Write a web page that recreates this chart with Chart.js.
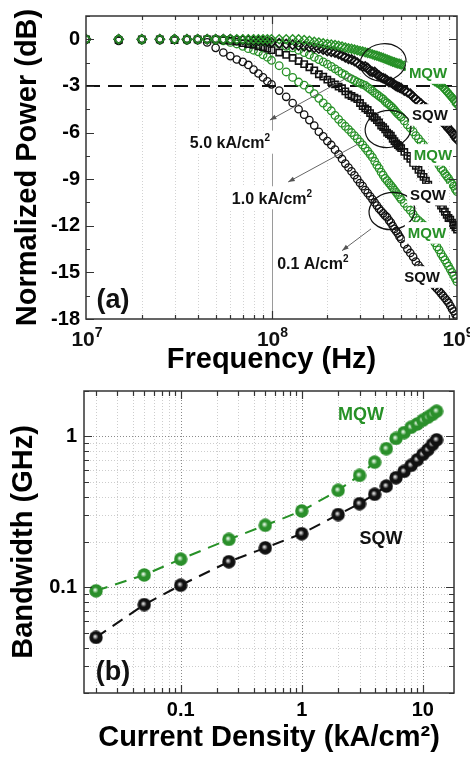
<!DOCTYPE html>
<html>
<head>
<meta charset="utf-8">
<script src="https://cdn.jsdelivr.net/npm/chart.js@4.4.1/dist/chart.umd.min.js"></script>
<style>
  html, body { margin: 0; padding: 0; background: #fff; }
  .panel { position: absolute; left: 0; width: 470px; }
  #pa { top: 0; height: 380px; }
  #pb { top: 380px; height: 377px; }
</style>
</head>
<body>
<div class="panel" id="pa"><canvas id="chartA" width="470" height="380"></canvas></div>
<div class="panel" id="pb"><canvas id="chartB" width="470" height="377"></canvas></div>
<script>
// (a) frequency response, shared frequency points in MHz
const freqMHz = [10, 15, 20, 25, 30, 35, 40, 45, 50, 55, 60, 65, 70, 75, 80, 85, 90, 95, 100,
  110, 120, 130, 140, 150, 160, 170, 180, 190, 200,
  210, 220, 230, 240, 250, 260, 270, 280, 290, 300,
  310, 320, 330, 340, 350, 360, 370, 380, 390, 400,
  410, 420, 430, 440, 450, 460, 470, 480, 490, 500,
  520, 540, 560, 580, 600, 620, 640, 660, 680, 700,
  720, 740, 760, 780, 800, 820, 840, 860, 880, 900,
  920, 940, 960, 980, 1000];

// normalized power (dB) at 0.1, 1.0 and 5.0 kA/cm2
const sqwLow = [0, -0.1, 0, -0.05, 0, -0.05, -0.05, -0.2, -0.55, -0.85, -1.08, -1.3, -1.45, -1.65, -1.95, -2.2, -2.45, -2.7, -2.9,
  -3.3, -3.7, -4.1, -4.5, -4.85, -5.2, -5.55, -5.95, -6.25, -6.55,
  -6.8, -7.1, -7.4, -7.7, -8.0, -8.25, -8.5, -8.75, -9.0, -9.25,
  -9.45, -9.7, -9.9, -10.1, -10.3, -10.5, -10.7, -10.9, -11.05, -11.2,
  -11.35, -11.45, -11.65, -11.8, -12.0, -12.2, -12.35, -12.5, -12.7, -12.85,
  -13.2, -13.5, -13.75, -14.0, -14.3, -14.55, -14.75, -14.95, -15.15, -15.4,
  -15.55, -15.75, -15.9, -16.05, -16.2, -16.35, -16.5, -16.65, -16.8, -16.95,
  -17.15, -17.35, -17.5, -17.7, -17.9];
const mqwLow = [0, 0, -0.05, 0, 0, -0.05, 0, 0, -0.05, -0.1, -0.2, -0.3, -0.45, -0.6, -0.7, -0.8, -1.0, -1.15, -1.35,
  -1.7, -2.1, -2.45, -2.75, -2.95, -3.2, -3.5, -3.8, -4.1, -4.35,
  -4.6, -4.9, -5.15, -5.4, -5.6, -5.8, -6.0, -6.2, -6.4, -6.6,
  -6.8, -7.0, -7.2, -7.4, -7.6, -7.85, -8.1, -8.3, -8.55, -8.75,
  -8.95, -9.1, -9.25, -9.4, -9.55, -9.7, -9.85, -10.0, -10.15, -10.3,
  -10.55, -10.8, -11.0, -11.25, -11.5, -11.65, -11.8, -11.95, -12.15, -12.4,
  -12.7, -12.9, -13.1, -13.35, -13.55, -13.8, -14.0, -14.2, -14.4, -14.6,
  -14.8, -15.0, -15.2, -15.4, -15.6];
const sqwMid = [0, -0.05, 0, 0, -0.05, 0, 0, 0, 0, -0.05, -0.1, -0.15, -0.25, -0.3, -0.35, -0.45, -0.5, -0.6, -0.7,
  -0.85, -1.0, -1.2, -1.4, -1.6, -1.8, -2.0, -2.25, -2.4, -2.6,
  -2.75, -2.9, -3.05, -3.15, -3.35, -3.55, -3.65, -3.75, -3.85, -4.1,
  -4.3, -4.45, -4.55, -4.75, -4.95, -5.05, -5.2, -5.35, -5.55, -5.65,
  -5.8, -6.0, -6.1, -6.2, -6.4, -6.55, -6.7, -6.8, -6.9, -7.0,
  -7.25, -7.5, -7.7, -7.95, -8.15, -8.4, -8.65, -8.85, -9.1, -9.35,
  -9.6, -9.85, -10.1, -10.3, -10.5, -10.7, -10.9, -11.1, -11.3, -11.5,
  -11.6, -11.8, -11.95, -12.1, -12.25];
const mqwMid = [0, 0, 0, 0, 0, 0, 0, 0, 0, 0, 0, -0.02, -0.05, -0.07, -0.1, -0.12, -0.15, -0.17, -0.2,
  -0.3, -0.45, -0.55, -0.7, -0.85, -1.0, -1.15, -1.3, -1.45, -1.6,
  -1.75, -1.9, -2.05, -2.2, -2.3, -2.45, -2.55, -2.65, -2.75, -2.82,
  -2.9, -2.97, -3.1, -3.2, -3.32, -3.45, -3.55, -3.65, -3.75, -3.85,
  -4.0, -4.1, -4.2, -4.3, -4.42, -4.55, -4.68, -4.8, -4.9, -5.0,
  -5.25, -5.5, -5.7, -5.95, -6.2, -6.4, -6.6, -6.8, -7.0, -7.2,
  -7.4, -7.6, -7.75, -7.9, -8.1, -8.3, -8.45, -8.65, -8.8, -8.95,
  -9.15, -9.3, -9.45, -9.65, -9.8];
const sqwHigh = [0, 0, 0, 0, 0, 0, 0, 0, 0, 0, 0, -0.05, -0.05, -0.05, -0.1, -0.1, -0.1, -0.15, -0.2,
  -0.25, -0.3, -0.35, -0.4, -0.45, -0.5, -0.55, -0.6, -0.65, -0.75,
  -0.8, -0.85, -0.95, -1.05, -1.15, -1.25, -1.3, -1.4, -1.5, -1.65,
  -1.75, -1.75, -1.85, -2.05, -2.1, -2.1, -2.25, -2.35, -2.45, -2.5,
  -2.55, -2.65, -2.75, -2.75, -2.85, -2.92, -3.0, -3.05, -3.1, -3.15,
  -3.3, -3.4, -3.5, -3.7, -3.85, -4.0, -4.15, -4.3, -4.4, -4.55,
  -4.7, -4.8, -4.9, -5.05, -5.15, -5.25, -5.35, -5.45, -5.6, -5.75,
  -5.85, -6.0, -6.15, -6.3, -6.45];
const mqwHigh = [0, 0, 0, 0, 0, 0, 0, 0, 0, 0, 0, 0, 0, 0, 0, 0, 0, 0, 0,
  0, 0, 0, 0, -0.05, -0.1, -0.15, -0.2, -0.25, -0.3,
  -0.33, -0.37, -0.42, -0.47, -0.52, -0.57, -0.61, -0.65, -0.7, -0.75,
  -0.79, -0.83, -0.88, -0.92, -0.97, -1.02, -1.06, -1.1, -1.15, -1.2,
  -1.25, -1.3, -1.35, -1.4, -1.44, -1.48, -1.52, -1.55, -1.58, -1.62,
  -1.7, -1.78, -1.86, -1.94, -2.02, -2.1, -2.18, -2.26, -2.34, -2.42,
  -2.5, -2.6, -2.7, -2.78, -2.86, -2.95, -3.08, -3.22, -3.35, -3.48,
  -3.62, -3.75, -3.88, -4.02, -4.2];

// (b) -3 dB bandwidth (GHz) versus current density (kA/cm2)
const density = [0.02, 0.05, 0.1, 0.25, 0.5, 1, 2, 3, 4, 5, 6, 7, 8, 9, 10, 11, 12, 13];
const bwMQW = [0.095, 0.121, 0.154, 0.208, 0.258, 0.321, 0.44, 0.552, 0.676, 0.83, 0.97, 1.06, 1.15, 1.21, 1.28, 1.34, 1.40, 1.47];
const bwSQW = [0.0467, 0.077, 0.1035, 0.148, 0.183, 0.227, 0.304, 0.359, 0.414, 0.469, 0.533, 0.587, 0.643, 0.701, 0.76, 0.817, 0.885, 0.95];

const FONT = "Arial, 'Liberation Sans', sans-serif";
const BLACK = '#111111';
const GREEN = '#279127';
const FRAME = '#333333';

// 1..9 x 10^n values inside [min, max]
function logSteps(min, max) {
  const out = [];
  for (let e = Math.floor(Math.log10(min)); e <= Math.ceil(Math.log10(max)); e++) {
    for (let k = 1; k < 10; k++) {
      const v = +(k * Math.pow(10, e)).toPrecision(6);
      if (v >= min * 0.999 && v <= max * 1.001) out.push({ v, major: k === 1 });
    }
  }
  return out;
}

// fixed axis box sizes, no extra room for overhanging labels
function fixSize(prop, size) {
  return s => {
    s[prop] = size;
    s.paddingTop = s.paddingBottom = s.paddingLeft = s.paddingRight = 0;
  };
}

function textWithSup(ctx, base, sup, cx, cy, size, color, box) {
  const supSize = Math.round(size * 0.65);
  ctx.font = `bold ${size}px ${FONT}`;
  const w1 = ctx.measureText(base).width;
  ctx.font = `bold ${supSize}px ${FONT}`;
  const w2 = sup ? ctx.measureText(sup).width : 0;
  const x0 = cx - (w1 + w2) / 2;
  if (box) {
    ctx.fillStyle = '#fff';
    ctx.fillRect(x0 - 3, cy - size * 0.72, w1 + w2 + 6, size * 1.44);
  }
  ctx.fillStyle = color;
  ctx.textAlign = 'left';
  ctx.textBaseline = 'alphabetic';
  const by = cy + size * 0.36;
  ctx.font = `bold ${size}px ${FONT}`;
  ctx.fillText(base, x0, by);
  if (sup) {
    ctx.font = `bold ${supSize}px ${FONT}`;
    ctx.fillText(sup, x0 + w1, by - size * 0.42);
  }
}

function inwardTicks(ctx, a, xs, ys, xTicks, yTicks, majorLen, minorLen) {
  ctx.strokeStyle = FRAME;
  ctx.lineWidth = 1.2;
  ctx.setLineDash([]);
  ctx.beginPath();
  xTicks.forEach(t => {
    const p = Math.round(xs.getPixelForValue(t.v)) + 0.5;
    const l = t.major ? majorLen : minorLen;
    ctx.moveTo(p, a.bottom); ctx.lineTo(p, a.bottom - l);
    ctx.moveTo(p, a.top); ctx.lineTo(p, a.top + l);
  });
  yTicks.forEach(t => {
    const p = Math.round(ys.getPixelForValue(t.v)) + 0.5;
    const l = t.major ? majorLen : minorLen;
    ctx.moveTo(a.left, p); ctx.lineTo(a.left + l, p);
    ctx.moveTo(a.right, p); ctx.lineTo(a.right - l, p);
  });
  ctx.stroke();
  ctx.lineWidth = 1.5;
  ctx.strokeRect(a.left, a.top, a.right - a.left, a.bottom - a.top);
}

// ---------- panel (a) ----------
const loops = [[400, -1.48], [425, -5.77], [446, -11.05]];
const arrows = [
  [[272, -2.3], [98, -5.2]],
  [[300, -6.67], [123, -9.18]],
  [[344, -12.2], [240, -13.6]]
];
const currentTags = [
  { text: '5.0 kA/cm', sup: '2', at: [59.7, -6.62] },
  { text: '1.0 kA/cm', sup: '2', at: [100.6, -10.2] },
  { text: '0.1 A/cm', sup: '2', at: [167, -14.4] }
];
const wellTags = [
  { text: 'MQW', color: GREEN, at: [698, -2.17] },
  { text: 'SQW', color: BLACK, at: [715, -4.87] },
  { text: 'MQW', color: GREEN, at: [742, -7.44] },
  { text: 'SQW', color: BLACK, at: [698, -10.0] },
  { text: 'MQW', color: GREEN, at: [689, -12.46] },
  { text: 'SQW', color: BLACK, at: [648, -15.3] }
];

const panelA = {
  id: 'panelA',
  beforeDatasetsDraw(chart) {
    const { ctx, chartArea: a, scales: { x } } = chart;
    ctx.save();
    ctx.lineWidth = 1;
    logSteps(x.min, x.max).forEach(t => {
      if (t.v <= x.min * 1.001 || t.v >= x.max * 0.999) return;
      const p = Math.round(x.getPixelForValue(t.v)) + 0.5;
      ctx.strokeStyle = t.major ? '#9a9a9a' : '#d2d2d2';
      ctx.setLineDash(t.major ? [] : [1, 2]);
      ctx.beginPath(); ctx.moveTo(p, a.top); ctx.lineTo(p, a.bottom); ctx.stroke();
    });
    ctx.restore();
  },
  afterDatasetsDraw(chart) {
    const { ctx, chartArea: a, scales: { x, y } } = chart;
    const px = f => x.getPixelForValue(f * 1e6);
    ctx.save();

    // ellipses grouping the SQW/MQW pair at each current
    ctx.strokeStyle = BLACK;
    ctx.lineWidth = 1.2;
    loops.forEach(([f, db]) => {
      ctx.beginPath();
      ctx.ellipse(px(f), y.getPixelForValue(db), 23, 18.5, -0.15, 0, Math.PI * 2);
      ctx.stroke();
    });

    // pointer arrows
    ctx.strokeStyle = '#666';
    ctx.fillStyle = '#555';
    ctx.lineWidth = 1;
    arrows.forEach(([s, e]) => {
      const x1 = px(s[0]), y1 = y.getPixelForValue(s[1]);
      const x2 = px(e[0]), y2 = y.getPixelForValue(e[1]);
      const ang = Math.atan2(y2 - y1, x2 - x1);
      ctx.beginPath(); ctx.moveTo(x1, y1); ctx.lineTo(x2, y2); ctx.stroke();
      ctx.beginPath();
      ctx.moveTo(x2, y2);
      ctx.lineTo(x2 - 7 * Math.cos(ang - 0.35), y2 - 7 * Math.sin(ang - 0.35));
      ctx.lineTo(x2 - 7 * Math.cos(ang + 0.35), y2 - 7 * Math.sin(ang + 0.35));
      ctx.closePath(); ctx.fill();
    });

    currentTags.forEach(t => textWithSup(ctx, t.text, t.sup, px(t.at[0]), y.getPixelForValue(t.at[1]), 16, BLACK, true));

    ctx.save();
    ctx.beginPath(); ctx.rect(a.left, a.top, a.right - a.left, a.bottom - a.top); ctx.clip();
    wellTags.forEach(t => textWithSup(ctx, t.text, '', px(t.at[0]), y.getPixelForValue(t.at[1]), 15, t.color, true));
    ctx.restore();

    textWithSup(ctx, '(a)', '', px(14), y.getPixelForValue(-16.65), 27, BLACK, false);

    const yTicks = [];
    for (let v = -18; v <= 1.5; v += 1.5) yTicks.push({ v, major: v % 3 === 0 });
    const xTicks = logSteps(x.min, x.max).filter(t => t.v > x.min * 1.001 && t.v < x.max * 0.999);
    inwardTicks(ctx, a, x, y, xTicks, yTicks, 8, 4);
    ctx.restore();
  },
  afterDraw(chart) {
    const { ctx, chartArea: a, scales: { x } } = chart;
    ctx.save();
    [1e7, 1e8, 1e9].forEach(v => {
      const exp = String(Math.round(Math.log10(v)));
      textWithSup(ctx, '10', exp, x.getPixelForValue(v) + 1, a.bottom + 19, 21, BLACK, false);
    });
    ctx.restore();
  }
};

function response(vals, color, style, radius, width) {
  return {
    data: freqMHz.map((f, i) => ({ x: f * 1e6, y: vals[i] })),
    showLine: false,
    pointStyle: style,
    pointRadius: radius,
    pointBorderWidth: width,
    borderColor: color,
    backgroundColor: 'rgba(0,0,0,0)',
    clip: 0
  };
}

new Chart(document.getElementById('chartA'), {
  type: 'scatter',
  data: {
    datasets: [
      response(mqwHigh, GREEN, 'rectRot', 4.5, 1.4),
      response(sqwHigh, BLACK, 'rectRot', 4.6, 1.6),
      response(mqwMid, GREEN, 'circle', 3.8, 1.3),
      response(sqwMid, BLACK, 'rect', 4.4, 1.6),
      response(mqwLow, GREEN, 'circle', 3.8, 1.3),
      response(sqwLow, BLACK, 'circle', 3.7, 1.3),
      {
        data: [{ x: 1e7, y: -3 }, { x: 1e9, y: -3 }],
        showLine: true,
        borderColor: '#111',
        borderWidth: 2,
        borderDash: [14, 8],
        pointRadius: 0,
        order: 10
      }
    ]
  },
  options: {
    responsive: false,
    animation: false,
    devicePixelRatio: 1,
    layout: { padding: { top: 16, right: 13, left: 0, bottom: 0 } },
    plugins: { legend: { display: false }, tooltip: { enabled: false } },
    scales: {
      x: {
        type: 'logarithmic',
        min: 1e7,
        max: 1e9,
        grid: { display: false, drawTicks: false },
        border: { display: false },
        ticks: { display: false },
        title: {
          display: true,
          text: 'Frequency (Hz)',
          color: '#000',
          font: { family: FONT, size: 29, weight: 'bold' },
          padding: { top: 0, bottom: 3 }
        },
        afterFit: fixSize('height', 61)
      },
      y: {
        type: 'linear',
        min: -18,
        max: 1.5,
        grid: { display: false, drawTicks: false },
        border: { display: false },
        ticks: {
          stepSize: 3,
          includeBounds: false,
          color: '#000',
          padding: 6,
          font: { family: FONT, size: 20, weight: 'bold' }
        },
        title: {
          display: true,
          text: 'Normalized Power (dB)',
          color: '#000',
          font: { family: FONT, size: 29, weight: 'bold' },
          padding: { top: 11, bottom: 0 }
        },
        afterFit: fixSize('width', 86)
      }
    }
  },
  plugins: [panelA]
});

// ---------- panel (b) ----------
function ball(base, shine) {
  const c = document.createElement('canvas');
  c.width = c.height = 14;
  const g = c.getContext('2d');
  const grad = g.createRadialGradient(6, 6, 0.5, 7, 7, 7);
  grad.addColorStop(0, shine);
  grad.addColorStop(0.4, base);
  grad.addColorStop(1, base);
  g.fillStyle = grad;
  g.beginPath(); g.arc(7, 7, 6.7, 0, Math.PI * 2); g.fill();
  return c;
}

const bandTags = [
  { text: 'MQW', color: GREEN, at: [3.09, 1.42] },
  { text: 'SQW', color: BLACK, at: [4.52, 0.214] }
];

const panelB = {
  id: 'panelB',
  beforeDatasetsDraw(chart) {
    const { ctx, chartArea: a, scales: { x, y } } = chart;
    ctx.save();
    ctx.lineWidth = 1;
    ctx.setLineDash([1, 2]);
    logSteps(x.min, x.max).forEach(t => {
      const p = Math.round(x.getPixelForValue(t.v)) + 0.5;
      if (p <= a.left + 1 || p >= a.right - 1) return;
      ctx.strokeStyle = t.major ? '#8a8a8a' : '#cdcdcd';
      ctx.beginPath(); ctx.moveTo(p, a.top); ctx.lineTo(p, a.bottom); ctx.stroke();
    });
    logSteps(y.min, y.max).forEach(t => {
      const p = Math.round(y.getPixelForValue(t.v)) + 0.5;
      if (p <= a.top + 1 || p >= a.bottom - 1) return;
      ctx.strokeStyle = t.major ? '#8a8a8a' : '#cdcdcd';
      ctx.beginPath(); ctx.moveTo(a.left, p); ctx.lineTo(a.right, p); ctx.stroke();
    });
    ctx.restore();
  },
  afterDatasetsDraw(chart) {
    const { ctx, chartArea: a, scales: { x, y } } = chart;
    ctx.save();
    bandTags.forEach(t => textWithSup(ctx, t.text, '', x.getPixelForValue(t.at[0]), y.getPixelForValue(t.at[1]), 18, t.color, false));
    textWithSup(ctx, '(b)', '', x.getPixelForValue(0.0276), y.getPixelForValue(0.0282), 27, BLACK, false);
    inwardTicks(ctx, a, x, y, logSteps(x.min, x.max), logSteps(y.min, y.max), 8, 5);
    ctx.restore();
  }
};

const near = (v, m) => Math.abs(v - m) < m * 1e-6;

new Chart(document.getElementById('chartB'), {
  type: 'scatter',
  data: {
    datasets: [
      {
        data: density.map((d, i) => ({ x: d, y: bwMQW[i] })),
        showLine: true,
        borderColor: GREEN,
        borderWidth: 2,
        borderDash: [12, 8],
        pointStyle: ball('#2a8f2a', '#e2f5e2'),
        pointRadius: 7
      },
      {
        data: density.map((d, i) => ({ x: d, y: bwSQW[i] })),
        showLine: true,
        borderColor: BLACK,
        borderWidth: 2,
        borderDash: [12, 8],
        pointStyle: ball('#111111', '#dcdcdc'),
        pointRadius: 7
      }
    ]
  },
  options: {
    responsive: false,
    animation: false,
    devicePixelRatio: 1,
    layout: { padding: { top: 11, right: 16, left: 0, bottom: 0 } },
    plugins: { legend: { display: false }, tooltip: { enabled: false } },
    scales: {
      x: {
        type: 'logarithmic',
        min: 0.0159,
        max: 18.1,
        grid: { display: false, drawTicks: false },
        border: { display: false },
        ticks: {
          autoSkip: false,
          maxRotation: 0,
          color: '#000',
          padding: 5,
          font: { family: FONT, size: 20, weight: 'bold' },
          callback: v => [0.1, 1, 10].find(m => near(v, m)) !== undefined ? String(v) : ''
        },
        title: {
          display: true,
          text: 'Current Density (kA/cm²)',
          color: '#000',
          font: { family: FONT, size: 29, weight: 'bold' },
          padding: { top: 0, bottom: 2 }
        },
        afterFit: fixSize('height', 64)
      },
      y: {
        type: 'logarithmic',
        min: 0.02,
        max: 2,
        grid: { display: false, drawTicks: false },
        border: { display: false },
        ticks: {
          autoSkip: false,
          color: '#000',
          padding: 7,
          font: { family: FONT, size: 20, weight: 'bold' },
          callback: v => [0.1, 1].find(m => near(v, m)) !== undefined ? String(v) : ''
        },
        title: {
          display: true,
          text: 'Bandwidth (GHz)',
          color: '#000',
          font: { family: FONT, size: 29, weight: 'bold' },
          padding: { top: 7, bottom: 0 }
        },
        afterFit: fixSize('width', 84)
      }
    }
  },
  plugins: [panelB]
});
</script>
</body>
</html>
